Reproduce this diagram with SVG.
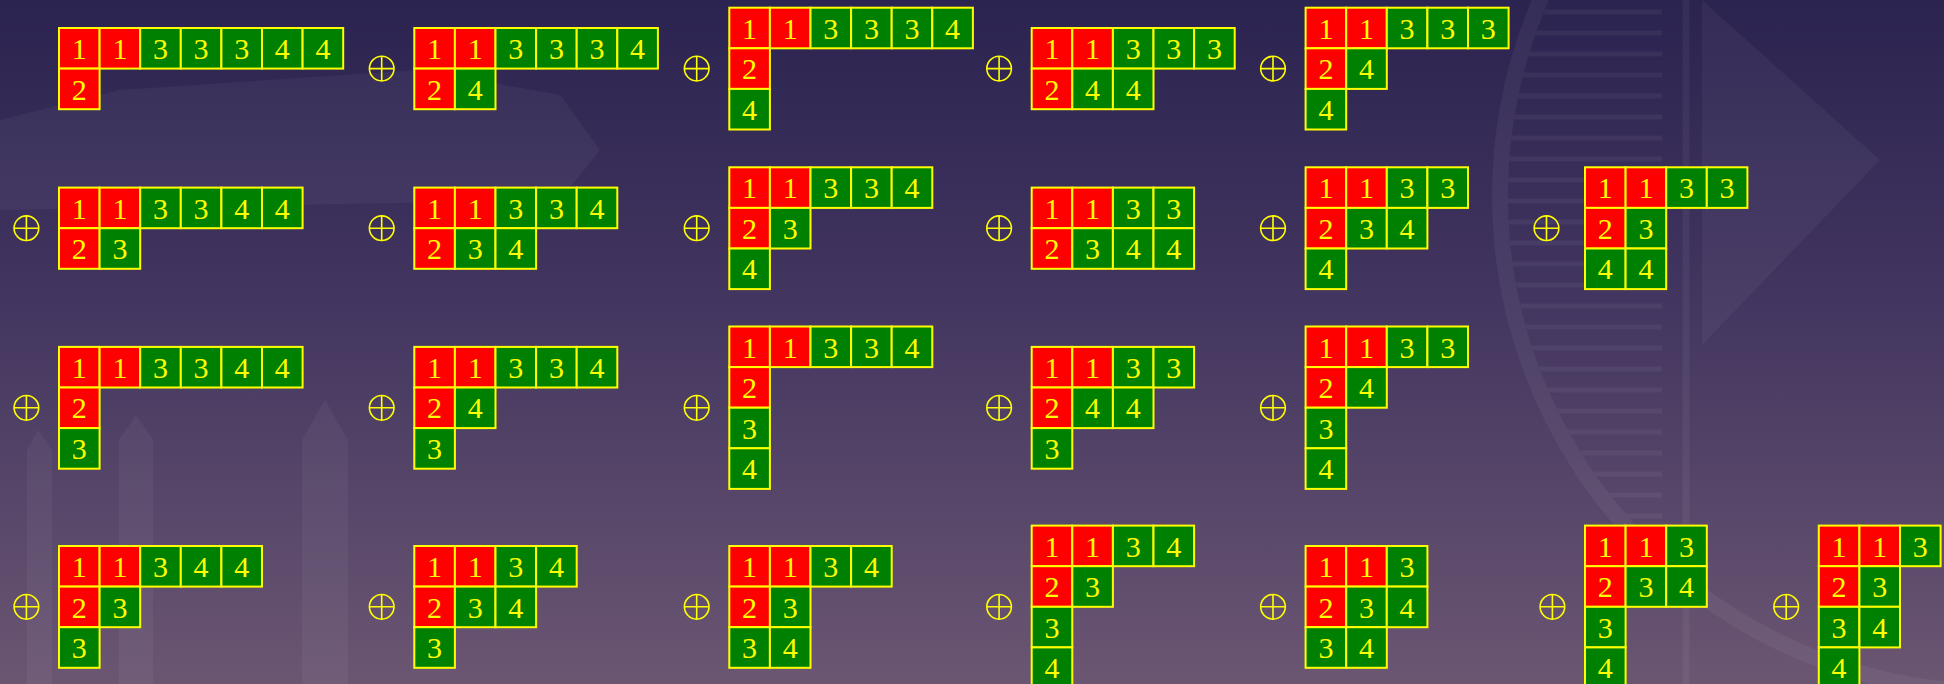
<svg xmlns="http://www.w3.org/2000/svg" width="1944" height="684" viewBox="0 0 1944 684">
<defs>
<linearGradient id="bg" x1="0" y1="0" x2="0" y2="1">
<stop offset="0" stop-color="#2b2350"/>
<stop offset="0.45" stop-color="#433660"/>
<stop offset="1" stop-color="#6b5672"/>
</linearGradient>
<clipPath id="sealClip"><circle cx="1996" cy="196" r="488"/></clipPath>
<style>
.wm{fill:#ffffff;fill-opacity:0.045;stroke:none}
.wl{fill:none;stroke:#ffffff;stroke-opacity:0.05}
rect.R,rect.G{stroke:#ffff00;stroke-width:2}
rect.R{fill:#ff0000}
rect.G{fill:#008000}
text{font-family:"Liberation Serif","Times New Roman",serif;font-size:30px;fill:#ffff00;text-anchor:middle}
.op circle,.op path{fill:none;stroke:#ffff00;stroke-width:1.6}
</style>
</defs>
<rect x="0" y="0" width="1944" height="684" fill="url(#bg)"/>
<g id="watermark">
<path class="wm" d="M0 120 L120 90 L420 70 L560 95 L600 150 L560 200 L0 210 Z" fill-opacity="0.02"/>
<path class="wm" d="M27 684 V450 L38 430 L52 450 V684 Z"/>
<path class="wm" d="M119 684 V440 L136 415 L153 440 V684 Z"/>
<path class="wm" d="M302 684 V440 L325 400 L348 440 V684 Z"/>
<circle class="wl" cx="1996" cy="196" r="496" stroke-width="16"/>
<g clip-path="url(#sealClip)" class="wl" stroke-width="5">
<path d="M1480 12H1662M1480 33H1662M1480 54H1662M1480 75H1662M1480 96H1662M1480 117H1662M1480 138H1662M1480 159H1662M1480 180H1662M1480 201H1662M1480 222H1662M1480 243H1662M1480 264H1662M1480 285H1662M1480 306H1662M1480 327H1662M1480 348H1662M1480 369H1662M1480 390H1662M1480 411H1662M1480 432H1662M1480 453H1662M1480 474H1662M1480 495H1662M1480 516H1662M1480 537H1662M1480 558H1662M1480 579H1662M1480 600H1662"/>
</g>
<path class="wl" d="M1686 0V684" stroke-width="7"/>
<path class="wm" d="M1702 0 L1880 160 L1702 345 Z" fill-opacity="0.06"/>
</g>
<g id="operators" class="op">
<g id="op12"><circle cx="381.7" cy="68.6" r="12.3"/><path d="M369.4 68.6H394M381.7 56.3V80.9"/></g>
<g id="op13"><circle cx="696.7" cy="68.6" r="12.3"/><path d="M684.4 68.6H709M696.7 56.3V80.9"/></g>
<g id="op14"><circle cx="999.1" cy="68.6" r="12.3"/><path d="M986.8 68.6H1011.4M999.1 56.3V80.9"/></g>
<g id="op15"><circle cx="1273" cy="68.6" r="12.3"/><path d="M1260.7 68.6H1285.3M1273 56.3V80.9"/></g>
<g id="op21"><circle cx="26.4" cy="228.2" r="12.3"/><path d="M14.1 228.2H38.7M26.4 215.9V240.5"/></g>
<g id="op22"><circle cx="381.7" cy="228.2" r="12.3"/><path d="M369.4 228.2H394M381.7 215.9V240.5"/></g>
<g id="op23"><circle cx="696.7" cy="228.2" r="12.3"/><path d="M684.4 228.2H709M696.7 215.9V240.5"/></g>
<g id="op24"><circle cx="999.1" cy="228.2" r="12.3"/><path d="M986.8 228.2H1011.4M999.1 215.9V240.5"/></g>
<g id="op25"><circle cx="1273" cy="228.2" r="12.3"/><path d="M1260.7 228.2H1285.3M1273 215.9V240.5"/></g>
<g id="op26"><circle cx="1546.5" cy="228.2" r="12.3"/><path d="M1534.2 228.2H1558.8M1546.5 215.9V240.5"/></g>
<g id="op31"><circle cx="26.4" cy="407.8" r="12.3"/><path d="M14.1 407.8H38.7M26.4 395.5V420.1"/></g>
<g id="op32"><circle cx="381.7" cy="407.8" r="12.3"/><path d="M369.4 407.8H394M381.7 395.5V420.1"/></g>
<g id="op33"><circle cx="696.7" cy="407.8" r="12.3"/><path d="M684.4 407.8H709M696.7 395.5V420.1"/></g>
<g id="op34"><circle cx="999.1" cy="407.8" r="12.3"/><path d="M986.8 407.8H1011.4M999.1 395.5V420.1"/></g>
<g id="op35"><circle cx="1273" cy="407.8" r="12.3"/><path d="M1260.7 407.8H1285.3M1273 395.5V420.1"/></g>
<g id="op41"><circle cx="26.4" cy="606.8" r="12.3"/><path d="M14.1 606.8H38.7M26.4 594.5V619.1"/></g>
<g id="op42"><circle cx="381.7" cy="606.8" r="12.3"/><path d="M369.4 606.8H394M381.7 594.5V619.1"/></g>
<g id="op43"><circle cx="696.7" cy="606.8" r="12.3"/><path d="M684.4 606.8H709M696.7 594.5V619.1"/></g>
<g id="op44"><circle cx="999.1" cy="606.8" r="12.3"/><path d="M986.8 606.8H1011.4M999.1 594.5V619.1"/></g>
<g id="op45"><circle cx="1273" cy="606.8" r="12.3"/><path d="M1260.7 606.8H1285.3M1273 594.5V619.1"/></g>
<g id="op46"><circle cx="1552.4" cy="606.8" r="12.3"/><path d="M1540.1 606.8H1564.7M1552.4 594.5V619.1"/></g>
<g id="op47"><circle cx="1786.2" cy="606.8" r="12.3"/><path d="M1773.9 606.8H1798.5M1786.2 594.5V619.1"/></g>
</g>

<g id="t11" transform="translate(59,28)">
<rect class="R" x="0" y="0" width="40.6" height="40.6"/><text x="20.3" y="31">1</text>
<rect class="R" x="40.6" y="0" width="40.6" height="40.6"/><text x="60.9" y="31">1</text>
<rect class="G" x="81.2" y="0" width="40.6" height="40.6"/><text x="101.5" y="31">3</text>
<rect class="G" x="121.8" y="0" width="40.6" height="40.6"/><text x="142.1" y="31">3</text>
<rect class="G" x="162.4" y="0" width="40.6" height="40.6"/><text x="182.7" y="31">3</text>
<rect class="G" x="203" y="0" width="40.6" height="40.6"/><text x="223.3" y="31">4</text>
<rect class="G" x="243.6" y="0" width="40.6" height="40.6"/><text x="263.9" y="31">4</text>
<rect class="R" x="0" y="40.6" width="40.6" height="40.6"/><text x="20.3" y="71.6">2</text>
</g>
<g id="t12" transform="translate(414.3,28)">
<rect class="R" x="0" y="0" width="40.6" height="40.6"/><text x="20.3" y="31">1</text>
<rect class="R" x="40.6" y="0" width="40.6" height="40.6"/><text x="60.9" y="31">1</text>
<rect class="G" x="81.2" y="0" width="40.6" height="40.6"/><text x="101.5" y="31">3</text>
<rect class="G" x="121.8" y="0" width="40.6" height="40.6"/><text x="142.1" y="31">3</text>
<rect class="G" x="162.4" y="0" width="40.6" height="40.6"/><text x="182.7" y="31">3</text>
<rect class="G" x="203" y="0" width="40.6" height="40.6"/><text x="223.3" y="31">4</text>
<rect class="R" x="0" y="40.6" width="40.6" height="40.6"/><text x="20.3" y="71.6">2</text>
<rect class="G" x="40.6" y="40.6" width="40.6" height="40.6"/><text x="60.9" y="71.6">4</text>
</g>
<g id="t13" transform="translate(729.3,7.7)">
<rect class="R" x="0" y="0" width="40.6" height="40.6"/><text x="20.3" y="31">1</text>
<rect class="R" x="40.6" y="0" width="40.6" height="40.6"/><text x="60.9" y="31">1</text>
<rect class="G" x="81.2" y="0" width="40.6" height="40.6"/><text x="101.5" y="31">3</text>
<rect class="G" x="121.8" y="0" width="40.6" height="40.6"/><text x="142.1" y="31">3</text>
<rect class="G" x="162.4" y="0" width="40.6" height="40.6"/><text x="182.7" y="31">3</text>
<rect class="G" x="203" y="0" width="40.6" height="40.6"/><text x="223.3" y="31">4</text>
<rect class="R" x="0" y="40.6" width="40.6" height="40.6"/><text x="20.3" y="71.6">2</text>
<rect class="G" x="0" y="81.2" width="40.6" height="40.6"/><text x="20.3" y="112.2">4</text>
</g>
<g id="t14" transform="translate(1031.7,28)">
<rect class="R" x="0" y="0" width="40.6" height="40.6"/><text x="20.3" y="31">1</text>
<rect class="R" x="40.6" y="0" width="40.6" height="40.6"/><text x="60.9" y="31">1</text>
<rect class="G" x="81.2" y="0" width="40.6" height="40.6"/><text x="101.5" y="31">3</text>
<rect class="G" x="121.8" y="0" width="40.6" height="40.6"/><text x="142.1" y="31">3</text>
<rect class="G" x="162.4" y="0" width="40.6" height="40.6"/><text x="182.7" y="31">3</text>
<rect class="R" x="0" y="40.6" width="40.6" height="40.6"/><text x="20.3" y="71.6">2</text>
<rect class="G" x="40.6" y="40.6" width="40.6" height="40.6"/><text x="60.9" y="71.6">4</text>
<rect class="G" x="81.2" y="40.6" width="40.6" height="40.6"/><text x="101.5" y="71.6">4</text>
</g>
<g id="t15" transform="translate(1305.6,7.7)">
<rect class="R" x="0" y="0" width="40.6" height="40.6"/><text x="20.3" y="31">1</text>
<rect class="R" x="40.6" y="0" width="40.6" height="40.6"/><text x="60.9" y="31">1</text>
<rect class="G" x="81.2" y="0" width="40.6" height="40.6"/><text x="101.5" y="31">3</text>
<rect class="G" x="121.8" y="0" width="40.6" height="40.6"/><text x="142.1" y="31">3</text>
<rect class="G" x="162.4" y="0" width="40.6" height="40.6"/><text x="182.7" y="31">3</text>
<rect class="R" x="0" y="40.6" width="40.6" height="40.6"/><text x="20.3" y="71.6">2</text>
<rect class="G" x="40.6" y="40.6" width="40.6" height="40.6"/><text x="60.9" y="71.6">4</text>
<rect class="G" x="0" y="81.2" width="40.6" height="40.6"/><text x="20.3" y="112.2">4</text>
</g>

<g id="t21" transform="translate(59,187.6)">
<rect class="R" x="0" y="0" width="40.6" height="40.6"/><text x="20.3" y="31">1</text>
<rect class="R" x="40.6" y="0" width="40.6" height="40.6"/><text x="60.9" y="31">1</text>
<rect class="G" x="81.2" y="0" width="40.6" height="40.6"/><text x="101.5" y="31">3</text>
<rect class="G" x="121.8" y="0" width="40.6" height="40.6"/><text x="142.1" y="31">3</text>
<rect class="G" x="162.4" y="0" width="40.6" height="40.6"/><text x="182.7" y="31">4</text>
<rect class="G" x="203" y="0" width="40.6" height="40.6"/><text x="223.3" y="31">4</text>
<rect class="R" x="0" y="40.6" width="40.6" height="40.6"/><text x="20.3" y="71.6">2</text>
<rect class="G" x="40.6" y="40.6" width="40.6" height="40.6"/><text x="60.9" y="71.6">3</text>
</g>
<g id="t22" transform="translate(414.3,187.6)">
<rect class="R" x="0" y="0" width="40.6" height="40.6"/><text x="20.3" y="31">1</text>
<rect class="R" x="40.6" y="0" width="40.6" height="40.6"/><text x="60.9" y="31">1</text>
<rect class="G" x="81.2" y="0" width="40.6" height="40.6"/><text x="101.5" y="31">3</text>
<rect class="G" x="121.8" y="0" width="40.6" height="40.6"/><text x="142.1" y="31">3</text>
<rect class="G" x="162.4" y="0" width="40.6" height="40.6"/><text x="182.7" y="31">4</text>
<rect class="R" x="0" y="40.6" width="40.6" height="40.6"/><text x="20.3" y="71.6">2</text>
<rect class="G" x="40.6" y="40.6" width="40.6" height="40.6"/><text x="60.9" y="71.6">3</text>
<rect class="G" x="81.2" y="40.6" width="40.6" height="40.6"/><text x="101.5" y="71.6">4</text>
</g>
<g id="t23" transform="translate(729.3,167.3)">
<rect class="R" x="0" y="0" width="40.6" height="40.6"/><text x="20.3" y="31">1</text>
<rect class="R" x="40.6" y="0" width="40.6" height="40.6"/><text x="60.9" y="31">1</text>
<rect class="G" x="81.2" y="0" width="40.6" height="40.6"/><text x="101.5" y="31">3</text>
<rect class="G" x="121.8" y="0" width="40.6" height="40.6"/><text x="142.1" y="31">3</text>
<rect class="G" x="162.4" y="0" width="40.6" height="40.6"/><text x="182.7" y="31">4</text>
<rect class="R" x="0" y="40.6" width="40.6" height="40.6"/><text x="20.3" y="71.6">2</text>
<rect class="G" x="40.6" y="40.6" width="40.6" height="40.6"/><text x="60.9" y="71.6">3</text>
<rect class="G" x="0" y="81.2" width="40.6" height="40.6"/><text x="20.3" y="112.2">4</text>
</g>
<g id="t24" transform="translate(1031.7,187.6)">
<rect class="R" x="0" y="0" width="40.6" height="40.6"/><text x="20.3" y="31">1</text>
<rect class="R" x="40.6" y="0" width="40.6" height="40.6"/><text x="60.9" y="31">1</text>
<rect class="G" x="81.2" y="0" width="40.6" height="40.6"/><text x="101.5" y="31">3</text>
<rect class="G" x="121.8" y="0" width="40.6" height="40.6"/><text x="142.1" y="31">3</text>
<rect class="R" x="0" y="40.6" width="40.6" height="40.6"/><text x="20.3" y="71.6">2</text>
<rect class="G" x="40.6" y="40.6" width="40.6" height="40.6"/><text x="60.9" y="71.6">3</text>
<rect class="G" x="81.2" y="40.6" width="40.6" height="40.6"/><text x="101.5" y="71.6">4</text>
<rect class="G" x="121.8" y="40.6" width="40.6" height="40.6"/><text x="142.1" y="71.6">4</text>
</g>
<g id="t25" transform="translate(1305.6,167.3)">
<rect class="R" x="0" y="0" width="40.6" height="40.6"/><text x="20.3" y="31">1</text>
<rect class="R" x="40.6" y="0" width="40.6" height="40.6"/><text x="60.9" y="31">1</text>
<rect class="G" x="81.2" y="0" width="40.6" height="40.6"/><text x="101.5" y="31">3</text>
<rect class="G" x="121.8" y="0" width="40.6" height="40.6"/><text x="142.1" y="31">3</text>
<rect class="R" x="0" y="40.6" width="40.6" height="40.6"/><text x="20.3" y="71.6">2</text>
<rect class="G" x="40.6" y="40.6" width="40.6" height="40.6"/><text x="60.9" y="71.6">3</text>
<rect class="G" x="81.2" y="40.6" width="40.6" height="40.6"/><text x="101.5" y="71.6">4</text>
<rect class="G" x="0" y="81.2" width="40.6" height="40.6"/><text x="20.3" y="112.2">4</text>
</g>
<g id="t26" transform="translate(1585,167.3)">
<rect class="R" x="0" y="0" width="40.6" height="40.6"/><text x="20.3" y="31">1</text>
<rect class="R" x="40.6" y="0" width="40.6" height="40.6"/><text x="60.9" y="31">1</text>
<rect class="G" x="81.2" y="0" width="40.6" height="40.6"/><text x="101.5" y="31">3</text>
<rect class="G" x="121.8" y="0" width="40.6" height="40.6"/><text x="142.1" y="31">3</text>
<rect class="R" x="0" y="40.6" width="40.6" height="40.6"/><text x="20.3" y="71.6">2</text>
<rect class="G" x="40.6" y="40.6" width="40.6" height="40.6"/><text x="60.9" y="71.6">3</text>
<rect class="G" x="0" y="81.2" width="40.6" height="40.6"/><text x="20.3" y="112.2">4</text>
<rect class="G" x="40.6" y="81.2" width="40.6" height="40.6"/><text x="60.9" y="112.2">4</text>
</g>

<g id="t31" transform="translate(59,346.9)">
<rect class="R" x="0" y="0" width="40.6" height="40.6"/><text x="20.3" y="31">1</text>
<rect class="R" x="40.6" y="0" width="40.6" height="40.6"/><text x="60.9" y="31">1</text>
<rect class="G" x="81.2" y="0" width="40.6" height="40.6"/><text x="101.5" y="31">3</text>
<rect class="G" x="121.8" y="0" width="40.6" height="40.6"/><text x="142.1" y="31">3</text>
<rect class="G" x="162.4" y="0" width="40.6" height="40.6"/><text x="182.7" y="31">4</text>
<rect class="G" x="203" y="0" width="40.6" height="40.6"/><text x="223.3" y="31">4</text>
<rect class="R" x="0" y="40.6" width="40.6" height="40.6"/><text x="20.3" y="71.6">2</text>
<rect class="G" x="0" y="81.2" width="40.6" height="40.6"/><text x="20.3" y="112.2">3</text>
</g>
<g id="t32" transform="translate(414.3,346.9)">
<rect class="R" x="0" y="0" width="40.6" height="40.6"/><text x="20.3" y="31">1</text>
<rect class="R" x="40.6" y="0" width="40.6" height="40.6"/><text x="60.9" y="31">1</text>
<rect class="G" x="81.2" y="0" width="40.6" height="40.6"/><text x="101.5" y="31">3</text>
<rect class="G" x="121.8" y="0" width="40.6" height="40.6"/><text x="142.1" y="31">3</text>
<rect class="G" x="162.4" y="0" width="40.6" height="40.6"/><text x="182.7" y="31">4</text>
<rect class="R" x="0" y="40.6" width="40.6" height="40.6"/><text x="20.3" y="71.6">2</text>
<rect class="G" x="40.6" y="40.6" width="40.6" height="40.6"/><text x="60.9" y="71.6">4</text>
<rect class="G" x="0" y="81.2" width="40.6" height="40.6"/><text x="20.3" y="112.2">3</text>
</g>
<g id="t33" transform="translate(729.3,326.5)">
<rect class="R" x="0" y="0" width="40.6" height="40.6"/><text x="20.3" y="31">1</text>
<rect class="R" x="40.6" y="0" width="40.6" height="40.6"/><text x="60.9" y="31">1</text>
<rect class="G" x="81.2" y="0" width="40.6" height="40.6"/><text x="101.5" y="31">3</text>
<rect class="G" x="121.8" y="0" width="40.6" height="40.6"/><text x="142.1" y="31">3</text>
<rect class="G" x="162.4" y="0" width="40.6" height="40.6"/><text x="182.7" y="31">4</text>
<rect class="R" x="0" y="40.6" width="40.6" height="40.6"/><text x="20.3" y="71.6">2</text>
<rect class="G" x="0" y="81.2" width="40.6" height="40.6"/><text x="20.3" y="112.2">3</text>
<rect class="G" x="0" y="121.8" width="40.6" height="40.6"/><text x="20.3" y="152.8">4</text>
</g>
<g id="t34" transform="translate(1031.7,346.9)">
<rect class="R" x="0" y="0" width="40.6" height="40.6"/><text x="20.3" y="31">1</text>
<rect class="R" x="40.6" y="0" width="40.6" height="40.6"/><text x="60.9" y="31">1</text>
<rect class="G" x="81.2" y="0" width="40.6" height="40.6"/><text x="101.5" y="31">3</text>
<rect class="G" x="121.8" y="0" width="40.6" height="40.6"/><text x="142.1" y="31">3</text>
<rect class="R" x="0" y="40.6" width="40.6" height="40.6"/><text x="20.3" y="71.6">2</text>
<rect class="G" x="40.6" y="40.6" width="40.6" height="40.6"/><text x="60.9" y="71.6">4</text>
<rect class="G" x="81.2" y="40.6" width="40.6" height="40.6"/><text x="101.5" y="71.6">4</text>
<rect class="G" x="0" y="81.2" width="40.6" height="40.6"/><text x="20.3" y="112.2">3</text>
</g>
<g id="t35" transform="translate(1305.6,326.5)">
<rect class="R" x="0" y="0" width="40.6" height="40.6"/><text x="20.3" y="31">1</text>
<rect class="R" x="40.6" y="0" width="40.6" height="40.6"/><text x="60.9" y="31">1</text>
<rect class="G" x="81.2" y="0" width="40.6" height="40.6"/><text x="101.5" y="31">3</text>
<rect class="G" x="121.8" y="0" width="40.6" height="40.6"/><text x="142.1" y="31">3</text>
<rect class="R" x="0" y="40.6" width="40.6" height="40.6"/><text x="20.3" y="71.6">2</text>
<rect class="G" x="40.6" y="40.6" width="40.6" height="40.6"/><text x="60.9" y="71.6">4</text>
<rect class="G" x="0" y="81.2" width="40.6" height="40.6"/><text x="20.3" y="112.2">3</text>
<rect class="G" x="0" y="121.8" width="40.6" height="40.6"/><text x="20.3" y="152.8">4</text>
</g>

<g id="t41" transform="translate(59,546)">
<rect class="R" x="0" y="0" width="40.6" height="40.6"/><text x="20.3" y="31">1</text>
<rect class="R" x="40.6" y="0" width="40.6" height="40.6"/><text x="60.9" y="31">1</text>
<rect class="G" x="81.2" y="0" width="40.6" height="40.6"/><text x="101.5" y="31">3</text>
<rect class="G" x="121.8" y="0" width="40.6" height="40.6"/><text x="142.1" y="31">4</text>
<rect class="G" x="162.4" y="0" width="40.6" height="40.6"/><text x="182.7" y="31">4</text>
<rect class="R" x="0" y="40.6" width="40.6" height="40.6"/><text x="20.3" y="71.6">2</text>
<rect class="G" x="40.6" y="40.6" width="40.6" height="40.6"/><text x="60.9" y="71.6">3</text>
<rect class="G" x="0" y="81.2" width="40.6" height="40.6"/><text x="20.3" y="112.2">3</text>
</g>
<g id="t42" transform="translate(414.3,546)">
<rect class="R" x="0" y="0" width="40.6" height="40.6"/><text x="20.3" y="31">1</text>
<rect class="R" x="40.6" y="0" width="40.6" height="40.6"/><text x="60.9" y="31">1</text>
<rect class="G" x="81.2" y="0" width="40.6" height="40.6"/><text x="101.5" y="31">3</text>
<rect class="G" x="121.8" y="0" width="40.6" height="40.6"/><text x="142.1" y="31">4</text>
<rect class="R" x="0" y="40.6" width="40.6" height="40.6"/><text x="20.3" y="71.6">2</text>
<rect class="G" x="40.6" y="40.6" width="40.6" height="40.6"/><text x="60.9" y="71.6">3</text>
<rect class="G" x="81.2" y="40.6" width="40.6" height="40.6"/><text x="101.5" y="71.6">4</text>
<rect class="G" x="0" y="81.2" width="40.6" height="40.6"/><text x="20.3" y="112.2">3</text>
</g>
<g id="t43" transform="translate(729.3,546)">
<rect class="R" x="0" y="0" width="40.6" height="40.6"/><text x="20.3" y="31">1</text>
<rect class="R" x="40.6" y="0" width="40.6" height="40.6"/><text x="60.9" y="31">1</text>
<rect class="G" x="81.2" y="0" width="40.6" height="40.6"/><text x="101.5" y="31">3</text>
<rect class="G" x="121.8" y="0" width="40.6" height="40.6"/><text x="142.1" y="31">4</text>
<rect class="R" x="0" y="40.6" width="40.6" height="40.6"/><text x="20.3" y="71.6">2</text>
<rect class="G" x="40.6" y="40.6" width="40.6" height="40.6"/><text x="60.9" y="71.6">3</text>
<rect class="G" x="0" y="81.2" width="40.6" height="40.6"/><text x="20.3" y="112.2">3</text>
<rect class="G" x="40.6" y="81.2" width="40.6" height="40.6"/><text x="60.9" y="112.2">4</text>
</g>
<g id="t44" transform="translate(1031.7,525.6)">
<rect class="R" x="0" y="0" width="40.6" height="40.6"/><text x="20.3" y="31">1</text>
<rect class="R" x="40.6" y="0" width="40.6" height="40.6"/><text x="60.9" y="31">1</text>
<rect class="G" x="81.2" y="0" width="40.6" height="40.6"/><text x="101.5" y="31">3</text>
<rect class="G" x="121.8" y="0" width="40.6" height="40.6"/><text x="142.1" y="31">4</text>
<rect class="R" x="0" y="40.6" width="40.6" height="40.6"/><text x="20.3" y="71.6">2</text>
<rect class="G" x="40.6" y="40.6" width="40.6" height="40.6"/><text x="60.9" y="71.6">3</text>
<rect class="G" x="0" y="81.2" width="40.6" height="40.6"/><text x="20.3" y="112.2">3</text>
<rect class="G" x="0" y="121.8" width="40.6" height="40.6"/><text x="20.3" y="152.8">4</text>
</g>
<g id="t45" transform="translate(1305.6,546)">
<rect class="R" x="0" y="0" width="40.6" height="40.6"/><text x="20.3" y="31">1</text>
<rect class="R" x="40.6" y="0" width="40.6" height="40.6"/><text x="60.9" y="31">1</text>
<rect class="G" x="81.2" y="0" width="40.6" height="40.6"/><text x="101.5" y="31">3</text>
<rect class="R" x="0" y="40.6" width="40.6" height="40.6"/><text x="20.3" y="71.6">2</text>
<rect class="G" x="40.6" y="40.6" width="40.6" height="40.6"/><text x="60.9" y="71.6">3</text>
<rect class="G" x="81.2" y="40.6" width="40.6" height="40.6"/><text x="101.5" y="71.6">4</text>
<rect class="G" x="0" y="81.2" width="40.6" height="40.6"/><text x="20.3" y="112.2">3</text>
<rect class="G" x="40.6" y="81.2" width="40.6" height="40.6"/><text x="60.9" y="112.2">4</text>
</g>
<g id="t46" transform="translate(1585,525.6)">
<rect class="R" x="0" y="0" width="40.6" height="40.6"/><text x="20.3" y="31">1</text>
<rect class="R" x="40.6" y="0" width="40.6" height="40.6"/><text x="60.9" y="31">1</text>
<rect class="G" x="81.2" y="0" width="40.6" height="40.6"/><text x="101.5" y="31">3</text>
<rect class="R" x="0" y="40.6" width="40.6" height="40.6"/><text x="20.3" y="71.6">2</text>
<rect class="G" x="40.6" y="40.6" width="40.6" height="40.6"/><text x="60.9" y="71.6">3</text>
<rect class="G" x="81.2" y="40.6" width="40.6" height="40.6"/><text x="101.5" y="71.6">4</text>
<rect class="G" x="0" y="81.2" width="40.6" height="40.6"/><text x="20.3" y="112.2">3</text>
<rect class="G" x="0" y="121.8" width="40.6" height="40.6"/><text x="20.3" y="152.8">4</text>
</g>
<g id="t47" transform="translate(1818.8,525.6)">
<rect class="R" x="0" y="0" width="40.6" height="40.6"/><text x="20.3" y="31">1</text>
<rect class="R" x="40.6" y="0" width="40.6" height="40.6"/><text x="60.9" y="31">1</text>
<rect class="G" x="81.2" y="0" width="40.6" height="40.6"/><text x="101.5" y="31">3</text>
<rect class="R" x="0" y="40.6" width="40.6" height="40.6"/><text x="20.3" y="71.6">2</text>
<rect class="G" x="40.6" y="40.6" width="40.6" height="40.6"/><text x="60.9" y="71.6">3</text>
<rect class="G" x="0" y="81.2" width="40.6" height="40.6"/><text x="20.3" y="112.2">3</text>
<rect class="G" x="40.6" y="81.2" width="40.6" height="40.6"/><text x="60.9" y="112.2">4</text>
<rect class="G" x="0" y="121.8" width="40.6" height="40.6"/><text x="20.3" y="152.8">4</text>
</g>
</svg>
